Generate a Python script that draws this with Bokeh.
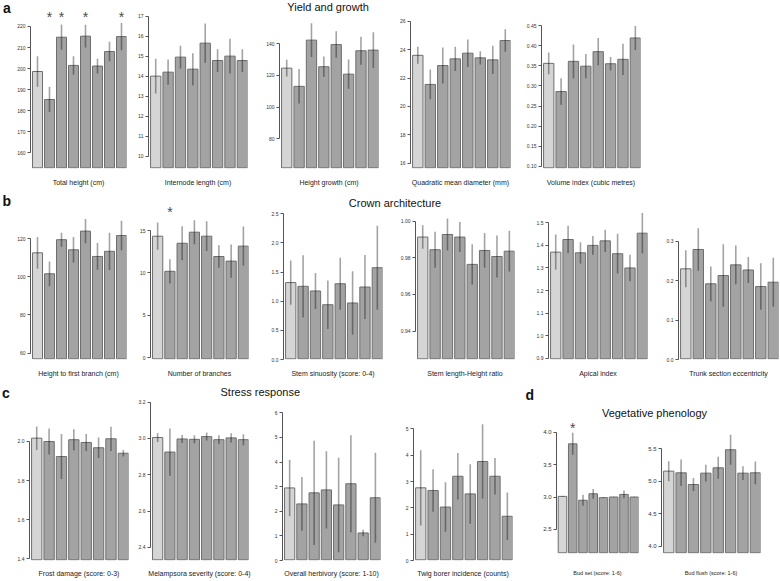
import numpy as np
from bokeh.plotting import figure
from bokeh.layouts import row, column
from bokeh.models import Range1d, FixedTicker, PrintfTickFormatter
from bokeh.core.properties import value
from bokeh.embed import file_html
from bokeh.resources import INLINE

# ---------------- data (means and error half-widths, 8 treatments; first = control) ----------
TOTAL_HEIGHT = [198.6, 185.3, 214.9, 201.5, 215.4, 201.2, 208.1, 215.2]
TOTAL_HEIGHT_SE = [7.2, 6.0, 6.0, 4.4, 5.4, 3.5, 4.6, 6.5]
INTERNODE = [14.0, 14.2, 14.95, 14.35, 15.65, 14.78, 15.0, 14.78]
INTERNODE_SE = [0.87, 0.63, 0.57, 0.8, 0.98, 0.57, 0.87, 0.57]
HEIGHT_GROWTH = [124.6, 113.1, 142.3, 125.5, 139.5, 120.8, 135.6, 136.0]
HEIGHT_GROWTH_SE = [5.3, 10.9, 10.6, 6.5, 8.4, 9.2, 8.8, 11.3]
QMD = [23.6, 21.55, 22.88, 23.35, 23.75, 23.42, 23.28, 24.64]
QMD_SE = [0.6, 1.05, 1.27, 0.85, 0.97, 0.47, 1.0, 0.79]
VOLUME = [0.356, 0.286, 0.361, 0.349, 0.385, 0.355, 0.366, 0.419]
VOLUME_SE = [0.027, 0.033, 0.042, 0.030, 0.034, 0.017, 0.039, 0.030]

FIRST_BRANCH = [112.6, 101.6, 119.5, 114.2, 124.0, 110.7, 113.4, 121.7]
FIRST_BRANCH_SE = [8.3, 6.5, 3.7, 6.7, 6.4, 7.0, 9.8, 7.7]
N_BRANCHES = [14.33, 10.2, 13.5, 14.8, 14.33, 11.94, 11.4, 13.16]
N_BRANCHES_SE = [1.6, 1.43, 2.0, 1.41, 1.75, 1.33, 1.96, 2.3]
SINUOSITY = [1.32, 1.256, 1.176, 0.94, 1.30, 0.97, 1.244, 1.575]
SINUOSITY_SE = [0.38, 0.535, 0.31, 0.415, 0.447, 0.545, 0.55, 0.722]
STEM_RATIO = [0.9913, 0.9844, 0.9927, 0.9913, 0.9764, 0.984, 0.9807, 0.9836]
STEM_RATIO_SE = [0.0064, 0.0098, 0.0087, 0.0082, 0.011, 0.0095, 0.0114, 0.0111]
APICAL = [1.37, 1.426, 1.367, 1.40, 1.42, 1.363, 1.30, 1.454]
APICAL_SE = [0.078, 0.061, 0.047, 0.042, 0.049, 0.088, 0.059, 0.089]
ECCENTRICITY = [0.23, 0.279, 0.192, 0.213, 0.24, 0.227, 0.185, 0.196]
ECCENTRICITY_SE = [0.047, 0.054, 0.044, 0.079, 0.049, 0.033, 0.059, 0.062]

FROST = [2.017, 2.0, 1.923, 2.009, 1.995, 1.968, 2.014, 1.94]
FROST_SE = [0.06, 0.066, 0.115, 0.054, 0.043, 0.052, 0.062, 0.017]
MELAMPSORA = [3.005, 2.925, 2.997, 2.995, 3.01, 2.993, 3.003, 2.993]
MELAMPSORA_SE = [0.025, 0.13, 0.022, 0.022, 0.022, 0.024, 0.025, 0.03]
HERBIVORY = [2.95, 2.3, 2.75, 2.87, 2.26, 3.12, 1.12, 2.55]
HERBIVORY_SE = [1.15, 1.09, 2.12, 1.57, 1.92, 1.97, 0.13, 1.83]
TWIG_BORER = [2.76, 2.66, 2.03, 3.2, 2.53, 3.76, 3.2, 1.68]
TWIG_BORER_SE = [1.43, 0.81, 0.94, 0.88, 1.13, 1.41, 0.69, 0.9]

BUD_SET = [3.01, 3.82, 2.95, 3.05, 2.99, 3.0, 3.04, 3.0]
BUD_SET_SE = [0.005, 0.17, 0.085, 0.075, 0.005, 0.005, 0.06, 0.005]
BUD_FLUSH = [5.156, 5.13, 4.95, 5.125, 5.207, 5.485, 5.125, 5.13]
BUD_FLUSH_SE = [0.154, 0.205, 0.1, 0.128, 0.17, 0.23, 0.105, 0.175]

# significant treatments (index of bar) marked with an asterisk
STARS_TOTAL_HEIGHT = [1, 2, 4, 7]
STARS_N_BRANCHES = [1]
STARS_BUD_SET = [1]

# tick values
TICKS_TOTAL_HEIGHT = [160, 170, 180, 190, 200, 210, 220]
TICKS_INTERNODE = [10, 11, 12, 13, 14, 15, 16, 17]
TICKS_HEIGHT_GROWTH = [80, 100, 120, 140]
TICKS_QMD = [16, 18, 20, 22, 24, 26]
TICKS_VOLUME = [0.10, 0.15, 0.20, 0.25, 0.30, 0.35, 0.40, 0.45]
TICKS_FIRST_BRANCH = [60, 80, 100, 120]
TICKS_N_BRANCHES = [0, 5, 10, 15]
TICKS_SINUOSITY = [0.0, 0.5, 1.0, 1.5, 2.0, 2.5]
TICKS_STEM_RATIO = [0.94, 0.96, 0.98, 1.00]
TICKS_APICAL = [0.9, 1.0, 1.1, 1.2, 1.3, 1.4, 1.5]
TICKS_ECCENTRICITY = [0.0, 0.1, 0.2, 0.3]
TICKS_FROST = [1.4, 1.6, 1.8, 2.0]
TICKS_MELAMPSORA = [2.4, 2.6, 2.8, 3.0, 3.2]
TICKS_HERBIVORY = [0, 1, 2, 3, 4, 5, 6]
TICKS_TWIG_BORER = [0, 1, 2, 3, 4, 5]
TICKS_BUD_SET = [2.5, 3.0, 3.5, 4.0]
TICKS_BUD_FLUSH = [4.0, 4.5, 5.0, 5.5]

# ---------------- layout / style ----------------
FONT = "Liberation Sans"
CONTROL_FILL = "#d5d5d5"
TREAT_FILL = "#a3a3a3"
EDGE = "#6e6e6e"


def ip(v):
    return int(round(v))


def bar_panel(vals, se, caption, ticks, fmt, ylim, left, width, fx0, fx1, geom,
              stars=None, star_y=None, tick_size="5px", cap_size="7px"):
    W = ip(fx1) - ip(fx0)
    H = ip(geom["bottom"]) - ip(geom["top"])
    bl = ip(left) - ip(fx0)
    fw = ip(left + width) - ip(left)
    br = W - bl - fw
    bb = ip(geom["bottom"]) - ip(geom["fbot"])
    fh = H - bb
    lo, hi = ylim
    p = figure(width=W, height=H, min_border_left=bl, min_border_right=br,
               min_border_top=0, min_border_bottom=bb,
               x_range=Range1d(0, 9.6), y_range=Range1d(lo, hi),
               output_backend="svg", toolbar_location=None, tools="", title=None)
    p.outline_line_color = None
    p.xgrid.visible = False
    p.ygrid.visible = False
    p.background_fill_color = "white"
    p.border_fill_color = "white"

    n = len(vals)
    idx = np.arange(n)
    xs = 0.7 + 1.2 * idx
    v = np.array(vals, dtype=float)
    e = np.array(se, dtype=float)
    colors = [CONTROL_FILL] + [TREAT_FILL] * (n - 1)
    base = lo + (hi - lo) * 0.7 / fh
    p.vbar(x=xs, top=v, bottom=base, width=1.0, fill_color=colors,
           line_color=EDGE, line_width=1)
    p.segment(x0=xs, y0=v - e, x1=xs, y1=v + e, line_color="black",
              line_alpha=0.36, line_width=1.6)
    if stars:
        sx_ = [xs[i] for i in stars]
        p.text(x=sx_, y=[star_y] * len(sx_), text=["*"] * len(sx_),
               text_font=value(FONT), text_font_size="14px", text_align="center",
               text_baseline="middle", text_color="#4a4a4a")

    ya = p.yaxis[0]
    ya.ticker = FixedTicker(ticks=ticks)
    ya.formatter = PrintfTickFormatter(format=fmt)
    ya.bounds = (ticks[0], ticks[-1])
    ya.axis_line_color = "#555555"
    ya.major_tick_line_color = "#555555"
    ya.minor_tick_line_color = None
    ya.major_tick_out = 3
    ya.major_tick_in = 0
    ya.major_label_standoff = 2
    ya.major_label_text_font = FONT
    ya.major_label_text_font_size = tick_size
    ya.major_label_text_color = "#333333"

    xa = p.xaxis[0]
    xa.ticker = FixedTicker(ticks=[])
    xa.axis_line_color = None
    xa.major_tick_line_color = None
    xa.minor_tick_line_color = None
    xa.major_tick_out = 0
    xa.major_tick_in = 0
    xa.major_label_standoff = 0
    xa.major_label_text_font_size = "0px"
    xa.axis_label = caption
    xa.axis_label_text_font = FONT
    xa.axis_label_text_font_style = "normal"
    xa.axis_label_text_font_size = cap_size
    xa.axis_label_text_color = "#222222"
    xa.axis_label_standoff = geom["standoff"]
    return p


def header(x0, x1, y0, y1, items):
    """Strip holding panel letters / group titles (y = text anchor in page pixels)."""
    W = ip(x1) - ip(x0)
    H = ip(y1) - ip(y0)
    p = figure(width=W, height=H, min_border_left=0, min_border_right=0,
               min_border_top=0, min_border_bottom=0,
               x_range=Range1d(x0, x1), y_range=Range1d(0, y1 - y0),
               x_axis_location=None, y_axis_location=None,
               output_backend="svg", toolbar_location=None, tools="", title=None)
    p.outline_line_color = None
    p.xgrid.visible = False
    p.ygrid.visible = False
    for (x, y, txt, size, style, align) in items:
        p.text(x=[x], y=[y1 - y], text=[txt], text_font=value(FONT),
               text_font_size=size, text_font_style=style, text_align=align,
               text_baseline="alphabetic", text_color="#111111")
    return p


BIG = "14px"
TTL = "11px"

# ---------------- row a ----------------
GA = dict(top=0, fbot=168, bottom=191, standoff=10)
GA3 = dict(top=14, fbot=168, bottom=191, standoff=10)
BA = [14, 130, 261, 392.5, 523, 660]
LA = [27.5, 148, 279, 410.5, 541]
a1 = bar_panel(TOTAL_HEIGHT, TOTAL_HEIGHT_SE, "Total height (cm)", TICKS_TOTAL_HEIGHT, "%d",
               (152.5, 232.35), LA[0], 99, BA[0], BA[1], GA,
               stars=STARS_TOTAL_HEIGHT, star_y=224.5)
a2 = bar_panel(INTERNODE, INTERNODE_SE, "Internode length (cm)", TICKS_INTERNODE, "%d",
               (9.385, 17.78), LA[1], 99, BA[1], BA[2], GA)
a3 = bar_panel(HEIGHT_GROWTH, HEIGHT_GROWTH_SE, "Height growth (cm)", TICKS_HEIGHT_GROWTH, "%d",
               (61.2, 158.5), LA[2], 99, BA[2], BA[3], GA3)
a4 = bar_panel(QMD, QMD_SE, "Quadratic mean diameter (mm)", TICKS_QMD, "%d",
               (15.63, 27.46), LA[3], 99, BA[3], BA[4], GA)
a5 = bar_panel(VOLUME, VOLUME_SE, "Volume index (cubic metres)", TICKS_VOLUME, "%.2f",
               (0.0949, 0.5121), LA[4], 99, BA[4], BA[5], GA)
letter_a = header(0, 14, 0, 191, [(2.5, 8.5, "a", BIG, "bold", "left")])
title_a = header(BA[2], BA[3], 0, 14, [(325.5, 6.5, "Yield and growth", TTL, "normal", "center")])
row_a = row(letter_a, a1, a2, column(title_a, a3), a4, a5)

# ---------------- row b ----------------
GB = dict(top=191, fbot=359, bottom=382, standoff=10)
GB34 = dict(top=210, fbot=359, bottom=382, standoff=10)
BB = [14, 131.5, 265, 397, 530, 660.5, 780]
LB = [27.5, 149.5, 283, 415, 548, 678.5]
b1 = bar_panel(FIRST_BRANCH, FIRST_BRANCH_SE, "Height to first branch (cm)", TICKS_FIRST_BRANCH, "%d",
               (56.6, 144.8), LB[0], 99, BB[0], BB[1], GB)
b2 = bar_panel(N_BRANCHES, N_BRANCHES_SE, "Number of branches", TICKS_N_BRANCHES, "%d",
               (-0.18, 19.59), LB[1], 99, BB[1], BB[2], GB,
               stars=STARS_N_BRANCHES, star_y=17.18)
b3 = bar_panel(SINUOSITY, SINUOSITY_SE, "Stem sinuosity (score: 0-4)", TICKS_SINUOSITY, "%.1f",
               (0.0, 2.557), LB[2], 99, BB[2], BB[3], GB34)
b4 = bar_panel(STEM_RATIO, STEM_RATIO_SE, "Stem length-Height ratio", TICKS_STEM_RATIO, "%.2f",
               (0.9245, 1.0058), LB[3], 99, BB[3], BB[4], GB34)
b5 = bar_panel(APICAL, APICAL_SE, "Apical index", TICKS_APICAL, "%.1f",
               (0.8944, 1.6387), LB[4], 99, BB[4], BB[5], GB)
b6 = bar_panel(ECCENTRICITY, ECCENTRICITY_SE, "Trunk section eccentricity", TICKS_ECCENTRICITY, "%.1f",
               (0.0, 0.4261), LB[5], 99, BB[5], BB[6], GB)
letter_b = header(0, 14, 191, 382, [(2, 202, "b", BIG, "bold", "left")])
title_b = header(BB[2], BB[4], 191, 210, [(394.5, 202, "Crown architecture", TTL, "normal", "center")])
row_b = row(letter_b, b1, b2, column(title_b, row(b3, b4)), b5, b6)

# ---------------- row c + d ----------------
GC = dict(top=382, fbot=560, bottom=581, standoff=9)
GC23 = dict(top=398, fbot=560, bottom=581, standoff=9)
GD = dict(top=420, fbot=553, bottom=581, standoff=16)
BC = [14, 131.5, 263.5, 395, 520]
LC = [29, 149.5, 281.5, 413]
c1 = bar_panel(FROST, FROST_SE, "Frost damage (score: 0-3)", TICKS_FROST, "%.1f",
               (1.3916, 2.3016), LC[0], 99, BC[0], BC[1], GC)
c2 = bar_panel(MELAMPSORA, MELAMPSORA_SE, "Melampsora severity (score: 0-4)", TICKS_MELAMPSORA, "%.1f",
               (2.328, 3.2198), LC[1], 99, BC[1], BC[2], GC23)
c3 = bar_panel(HERBIVORY, HERBIVORY_SE, "Overall herbivory (score: 1-10)", TICKS_HERBIVORY, "%d",
               (0.0, 6.585), LC[2], 99, BC[2], BC[3], GC23)
c4 = bar_panel(TWIG_BORER, TWIG_BORER_SE, "Twig borer incidence (counts)", TICKS_TWIG_BORER, "%d",
               (0.0, 6.76), LC[3], 99, BC[3], BC[4], GC)
BD = [520, 643, 780]
LD = [555.5, 661]
d1 = bar_panel(BUD_SET, BUD_SET_SE, "Bud set (score: 1-6)", TICKS_BUD_SET, "%.1f",
               (2.129, 4.18), LD[0], 82, BD[0], BD[1], GD,
               stars=STARS_BUD_SET, star_y=4.057, tick_size="6px", cap_size="5.5px")
d2 = bar_panel(BUD_FLUSH, BUD_FLUSH_SE, "Bud flush (score: 1-6)", TICKS_BUD_FLUSH, "%.1f",
               (3.887, 5.936), LD[1], 99, BD[1], BD[2], GD, tick_size="6px", cap_size="5.5px")
letter_c = header(0, 14, 382, 581, [(1.5, 394, "c", BIG, "bold", "left")])
title_c = header(BC[1], BC[3], 382, 398, [(259.5, 391, "Stress response", TTL, "normal", "center")])
title_d = header(BD[0], BD[2], 382, 420, [(525, 394.5, "d", BIG, "bold", "left"),
                                          (654, 412.5, "Vegetative phenology", TTL, "normal", "center")])
row_c = row(letter_c, c1, column(title_c, row(c2, c3)), c4, column(title_d, row(d1, d2)))

layout = column(row_a, row_b, row_c)

open("out.html", "w").write(file_html(layout, INLINE))
